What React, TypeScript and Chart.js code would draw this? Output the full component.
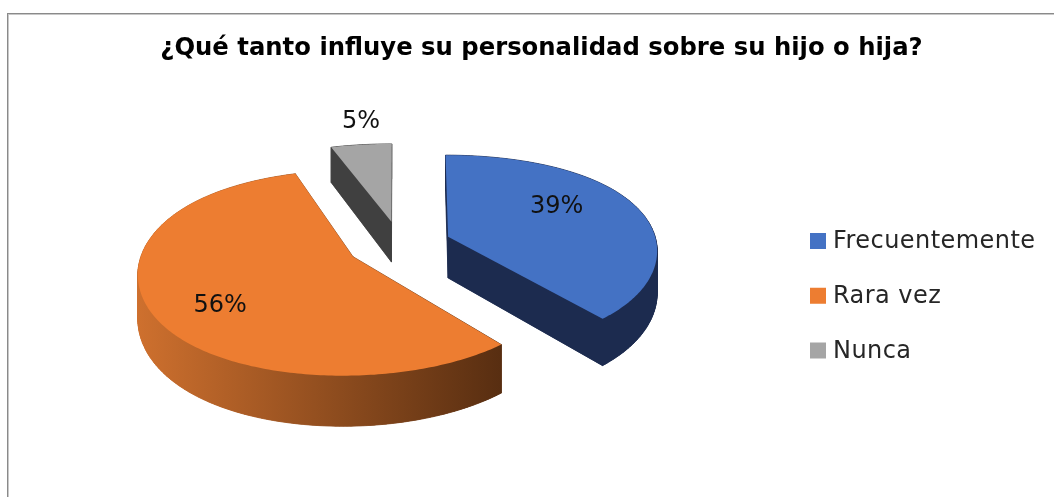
import React, { useEffect, useRef } from 'react';
import { Chart, registerables } from 'chart.js';

Chart.register(...registerables);

const TITLE = '¿Qué tanto influye su personalidad sobre su hijo o hija?';
const CATEGORIES = ['Frecuentemente', 'Rara vez', 'Nunca'];
const VALUES = [39, 56, 5];
const TOP_COLORS = ['#4472C4', '#ED7D31', '#A5A5A5'];
const SIDE_COLORS = [
  ['#1C2B4F', '#1C2B4F'],
  ['#CE702E', '#582E11'],
  ['#404040', '#404040'],
];

const FONT_FAMILY = "'DejaVu Sans', sans-serif";

// 3D look (style constants, in units of the pie radius)
const EXPLODE = 0.25;
const PERSPECTIVE_Y = 0.155;
const PERSPECTIVE_X1 = 0.115;
const PERSPECTIVE_X2 = 0.05;
const TILT = 0.462;
const THICKNESS = 0.2;
const RADIUS_SCALE = 0.986;
const LABEL_RADIUS_IN = 0.69;
const LABEL_RADIUS_OUT = 1.35;
const LABEL_TURN = (-11 * Math.PI) / 180;
const LABEL_IN_SHIFT = [-9, 2];
const LABEL_OUT_SHIFT = [11, 0];
const OUTSIDE_BELOW = 10;

// legend layout
const LEGEND_X = 810;
const LEGEND_FIRST_Y = 241;
const LEGEND_STEP = 54.75;
const LEGEND_BOX = 16;
const LEGEND_TEXT_GAP = 23;

type Pt = [number, number];

const pie3d = {
  id: 'pie3d',
  beforeDatasetsDraw(chart: any) {
    const meta = chart.getDatasetMeta(0);
    const arcs = meta.data;
    if (!arcs || !arcs.length) return false;
    const ctx: CanvasRenderingContext2D = chart.ctx;
    const area = chart.chartArea;
    const A = arcs[0].outerRadius * RADIUS_SCALE;

    const project = (u: number, w: number, bottom: boolean): Pt => {
      const dx = 1 - PERSPECTIVE_X1 * w - PERSPECTIVE_X2 * w * w;
      const dy = 1 - PERSPECTIVE_Y * w;
      return [(A * u) / dx, (A * TILT * w) / dy + (bottom ? (A * THICKNESS) / dy : 0)];
    };

    const slices = arcs.map((arc: any, i: number) => {
      const s = arc.startAngle;
      const e = arc.endAngle;
      const mid = (s + e) / 2;
      const ox = EXPLODE * Math.cos(mid);
      const oy = EXPLODE * Math.sin(mid);
      const n = Math.max(6, Math.ceil((e - s) / 0.015));
      const rim: Pt[] = [];
      for (let k = 0; k <= n; k++) {
        const t = s + ((e - s) * k) / n;
        rim.push([ox + Math.cos(t), oy + Math.sin(t)]);
      }
      return { i, s, e, mid, ox, oy, rim };
    });

    let minX = Infinity, maxX = -Infinity, minY = Infinity, maxY = -Infinity;
    for (const sl of slices) {
      const pts: Pt[] = [[sl.ox, sl.oy], ...sl.rim];
      for (const p of pts) {
        for (const b of [false, true]) {
          const q = project(p[0], p[1], b);
          minX = Math.min(minX, q[0]); maxX = Math.max(maxX, q[0]);
          minY = Math.min(minY, q[1]); maxY = Math.max(maxY, q[1]);
        }
      }
    }
    const offX = (area.left + area.right) / 2 - (minX + maxX) / 2;
    const offY = (area.top + area.bottom) / 2 - (minY + maxY) / 2;
    const P = (u: number, w: number, bottom: boolean): Pt => {
      const q = project(u, w, bottom);
      return [q[0] + offX, q[1] + offY];
    };

    const poly = (pts: Pt[]) => {
      ctx.beginPath();
      ctx.moveTo(pts[0][0], pts[0][1]);
      for (let k = 1; k < pts.length; k++) ctx.lineTo(pts[k][0], pts[k][1]);
      ctx.closePath();
    };

    ctx.save();
    const order = [...slices].sort((a, b) => a.oy - b.oy);
    for (const sl of order) {
      const tipT = P(sl.ox, sl.oy, false);
      const tipB = P(sl.ox, sl.oy, true);
      const rimT = sl.rim.map((p: Pt) => P(p[0], p[1], false));
      const rimB = sl.rim.map((p: Pt) => P(p[0], p[1], true));
      let sx0 = Infinity, sx1 = -Infinity;
      for (const p of [tipT, ...rimT]) { sx0 = Math.min(sx0, p[0]); sx1 = Math.max(sx1, p[0]); }
      const cols = SIDE_COLORS[sl.i % SIDE_COLORS.length];
      const grad = ctx.createLinearGradient(sx0, 0, sx1, 0);
      grad.addColorStop(0, cols[0]);
      grad.addColorStop(1, cols[1]);
      ctx.fillStyle = grad;
      ctx.strokeStyle = grad;
      ctx.lineWidth = 0.8;
      ctx.lineJoin = 'round';
      poly([tipB, ...rimB]);
      ctx.fill();
      poly([tipT, rimT[0], rimB[0], tipB]);
      ctx.fill(); ctx.stroke();
      const last = rimT.length - 1;
      poly([tipT, rimT[last], rimB[last], tipB]);
      ctx.fill(); ctx.stroke();
      for (let k = 0; k < last; k++) {
        poly([rimT[k], rimT[k + 1], rimB[k + 1], rimB[k]]);
        ctx.fill(); ctx.stroke();
      }
      poly([tipT, ...rimT]);
      ctx.fillStyle = TOP_COLORS[sl.i % TOP_COLORS.length];
      ctx.fill();
    }

    const total = VALUES.reduce((a, b) => a + b, 0);
    ctx.font = `24px ${FONT_FAMILY}`;
    ctx.fillStyle = '#111';
    ctx.textAlign = 'center';
    ctx.textBaseline = 'middle';
    for (const sl of slices) {
      const pct = Math.round((VALUES[sl.i] / total) * 100);
      const outside = pct < OUTSIDE_BELOW;
      const ang = outside ? sl.mid : sl.mid + LABEL_TURN;
      const r = outside ? LABEL_RADIUS_OUT : LABEL_RADIUS_IN;
      const shift = outside ? LABEL_OUT_SHIFT : LABEL_IN_SHIFT;
      const p = P(sl.ox + r * Math.cos(ang), sl.oy + r * Math.sin(ang), false);
      ctx.fillText(`${pct}%`, p[0] + shift[0], p[1] + shift[1]);
    }
    ctx.restore();
    return false;
  },
  afterDraw(chart: any) {
    const ctx: CanvasRenderingContext2D = chart.ctx;
    const labels: string[] = chart.data.labels;
    const colors: string[] = chart.data.datasets[0].backgroundColor;
    ctx.save();
    ctx.font = `24px ${FONT_FAMILY}`;
    ctx.textAlign = 'left';
    ctx.textBaseline = 'middle';
    (ctx as any).letterSpacing = '0.45px';
    labels.forEach((lab, i) => {
      const cy = LEGEND_FIRST_Y + i * LEGEND_STEP;
      ctx.fillStyle = colors[i];
      ctx.fillRect(LEGEND_X, cy - LEGEND_BOX / 2, LEGEND_BOX, LEGEND_BOX);
      ctx.fillStyle = '#262626';
      ctx.fillText(lab, LEGEND_X + LEGEND_TEXT_GAP, cy + 1);
    });
    ctx.restore();
  },
};

export default function App() {
  const ref = useRef<HTMLCanvasElement>(null);
  useEffect(() => {
    if (!ref.current) return;
    const chart = new Chart(ref.current, {
      type: 'pie',
      data: {
        labels: CATEGORIES,
        datasets: [{ data: VALUES, backgroundColor: TOP_COLORS, borderWidth: 0 }],
      },
      options: {
        responsive: false,
        animation: false,
        devicePixelRatio: 1,
        layout: { padding: { left: 29, right: 0, top: 0, bottom: 0 } },
        plugins: {
          title: {
            display: true,
            text: TITLE,
            color: '#000',
            font: { family: FONT_FAMILY, size: 24.3, weight: 'bold', lineHeight: 1.2 },
            padding: { top: 34, bottom: 10 },
          },
          subtitle: {
            display: true,
            text: '',
            position: 'right',
            fullSize: false,
            font: { size: 10, lineHeight: 1.2 },
            padding: { top: 276, bottom: 0 },
          },
          legend: { display: false },
          tooltip: { enabled: false },
        },
      } as any,
      plugins: [pie3d],
    });
    return () => chart.destroy();
  }, []);

  return (
    <div style={{ position: 'fixed', left: 0, top: 0, width: 1054, height: 497, background: '#fff', overflow: 'hidden' }}>
      <div
        style={{
          position: 'absolute',
          left: 7,
          top: 13,
          width: 1200,
          height: 700,
          borderLeft: '1px solid #8a8a8a',
          borderTop: '1px solid #8a8a8a',
          boxShadow: 'inset 1px 1px 0 #c8c8c8',
        }}
      />
      <canvas ref={ref} width={1054} height={497} style={{ position: 'absolute', left: 0, top: 0, width: 1054, height: 497 }} />
    </div>
  );
}
